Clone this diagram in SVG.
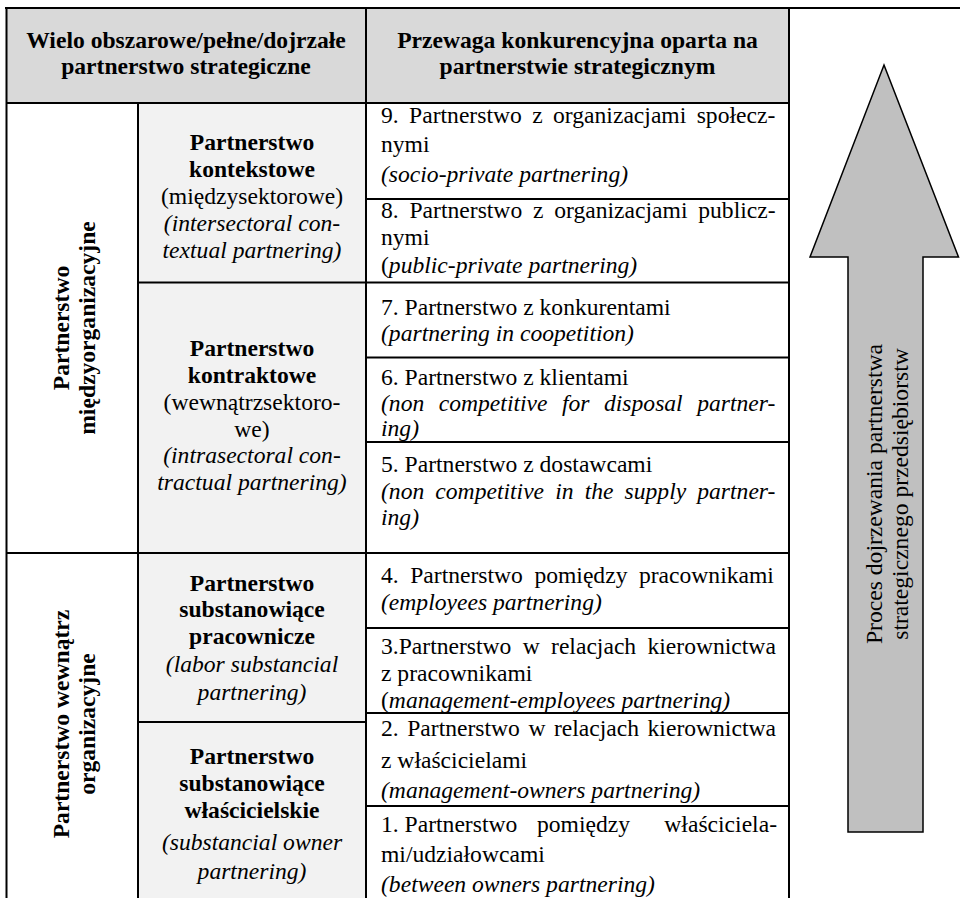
<svg xmlns="http://www.w3.org/2000/svg" width="960" height="898" viewBox="0 0 960 898">
<style>
 text { font-family: "Liberation Serif", "Times New Roman", serif; font-size: 23.6px; fill: #000; }
 .b { font-weight: bold; }
 .i { font-style: italic; }
 .c { text-anchor: middle; }
 .e { text-anchor: end; }
 .ln { stroke: #000; stroke-width: 2; fill: none; }
</style>
<rect x="0" y="0" width="960" height="898" fill="#fff"/>
<g id="backgrounds">
 <rect x="6" y="8" width="783" height="95" fill="#d9d9d9"/>
 <rect x="138" y="103" width="228" height="795" fill="#f2f2f2"/>
</g>
<g id="header-left">
 <text class="b c" x="186" y="48">Wielo obszarowe/pełne/dojrzałe</text>
 <text class="b c" x="186" y="74">partnerstwo strategiczne</text>
</g>
<g id="header-right">
 <text class="b c" x="577.5" y="48">Przewaga konkurencyjna oparta na</text>
 <text class="b c" x="577.5" y="74">partnerstwie strategicznym</text>
</g>
<g id="group-inter">
 <text class="b c" transform="translate(69,328) rotate(-90)">Partnerstwo</text>
 <text class="b c" transform="translate(95,328) rotate(-90)">międzyorganizacyjne</text>
</g>
<g id="group-intra">
 <text class="b c" transform="translate(69,724) rotate(-90)">Partnerstwo wewnątrz</text>
 <text class="b c" transform="translate(95,724) rotate(-90)">organizacyjne</text>
</g>
<g id="cat-kontekstowe">
 <text class="b c" x="252" y="150">Partnerstwo</text>
 <text class="b c" x="252" y="177">kontekstowe</text>
 <text class="c" x="252" y="204">(międzysektorowe)</text>
 <text class="i c" x="252" y="231">(intersectoral con-</text>
 <text class="i c" x="252" y="258">textual partnering)</text>
</g>
<g id="cat-kontraktowe">
 <text class="b c" x="252" y="356">Partnerstwo</text>
 <text class="b c" x="252" y="383">kontraktowe</text>
 <text class="c" x="252" y="410">(wewnątrzsektoro-</text>
 <text class="c" x="252" y="437">we)</text>
 <text class="i c" x="252" y="463">(intrasectoral con-</text>
 <text class="i c" x="252" y="490">tractual partnering)</text>
</g>
<g id="cat-pracownicze">
 <text class="b c" x="252" y="591">Partnerstwo</text>
 <text class="b c" x="252" y="617">substanowiące</text>
 <text class="b c" x="252" y="644">pracownicze</text>
 <text class="i c" x="252" y="672">(labor substancial</text>
 <text class="i c" x="252" y="700">partnering)</text>
</g>
<g id="cat-wlascicielskie">
 <text class="b c" x="252" y="764">Partnerstwo</text>
 <text class="b c" x="252" y="791">substanowiące</text>
 <text class="b c" x="252" y="818">właścicielskie</text>
 <text class="i c" x="252" y="850">(substancial owner</text>
 <text class="i c" x="252" y="879">partnering)</text>
</g>
<g id="level-9">
 <text x="381" y="123" word-spacing="4.5">9. Partnerstwo z organizacjami społecz-</text>
 <text x="381" y="152">nymi</text>
 <text class="i" x="381" y="182">(socio-private partnering)</text>
</g>
<g id="level-8">
 <text x="381" y="218" word-spacing="4.9">8. Partnerstwo z organizacjami publicz-</text>
 <text x="381" y="245">nymi</text>
 <text x="381" y="273">(<tspan class="i">public-private partnering)</tspan></text>
</g>
<g id="level-7">
 <text x="381" y="315">7. Partnerstwo z konkurentami</text>
 <text class="i" x="381" y="341">(partnering in coopetition)</text>
</g>
<g id="level-6">
 <text x="381" y="385">6. Partnerstwo z klientami</text>
 <text class="i" x="381" y="411" word-spacing="8.6">(non competitive for disposal partner-</text>
 <text class="i" x="381" y="436">ing)</text>
</g>
<g id="level-5">
 <text x="381" y="472">5. Partnerstwo z dostawcami</text>
 <text class="i" x="381" y="498.5" word-spacing="5.2">(non competitive in the supply partner-</text>
 <text class="i" x="381" y="525">ing)</text>
</g>
<g id="level-4">
 <text x="381" y="583" word-spacing="5.6">4. Partnerstwo pomiędzy pracownikami</text>
 <text class="i" x="381" y="610">(employees partnering)</text>
</g>
<g id="level-3">
 <text x="381" y="654" word-spacing="5.4">3.Partnerstwo w relacjach kierownictwa</text>
 <text x="381" y="681">z pracownikami</text>
 <text x="381" y="708">(<tspan class="i">management-employees partnering)</tspan></text>
</g>
<g id="level-2">
 <text x="381" y="736" word-spacing="2.6">2. Partnerstwo w relacjach kierownictwa</text>
 <text x="381" y="768">z właścicielami</text>
 <text class="i" x="381" y="798">(management-owners partnering)</text>
</g>
<g id="level-1">
 <text x="381" y="832">1. Partnerstwo</text>
 <text x="537" y="832">pomiędzy</text>
 <text class="e" x="777" y="832">właściciela-</text>
 <text x="381" y="862">mi/udziałowcami</text>
 <text class="i" x="381" y="892">(between owners partnering)</text>
</g>
<g id="maturity-arrow">
 <polygon points="884,65 958.5,257 923,257 923,832 848,832 848,257 810,257" fill="#c0c0c0" stroke="#000" stroke-width="1.5" stroke-linejoin="miter"/>
 <text class="c" transform="translate(882,494) rotate(-90)">Proces dojrzewania partnerstwa</text>
 <text class="c" transform="translate(908,494) rotate(-90)">strategicznego przedsiębiorstw</text>
</g>
<g id="grid" class="ln">
 <line x1="5" y1="8" x2="960" y2="8"/>
 <line x1="6" y1="103" x2="789" y2="103"/>
 <line x1="366" y1="199" x2="789" y2="199"/>
 <line x1="138" y1="282.5" x2="789" y2="282.5"/>
 <line x1="366" y1="357.5" x2="789" y2="357.5"/>
 <line x1="366" y1="442" x2="789" y2="442"/>
 <line x1="6" y1="553" x2="789" y2="553"/>
 <line x1="366" y1="628" x2="789" y2="628"/>
 <line x1="366" y1="713" x2="789" y2="713"/>
 <line x1="138" y1="722" x2="366" y2="722"/>
 <line x1="366" y1="806" x2="789" y2="806"/>
 <line x1="6.5" y1="7" x2="6.5" y2="898"/>
 <line x1="138" y1="103" x2="138" y2="898"/>
 <line x1="366" y1="7" x2="366" y2="898"/>
 <line x1="789" y1="7" x2="789" y2="898"/>
</g>
</svg>
